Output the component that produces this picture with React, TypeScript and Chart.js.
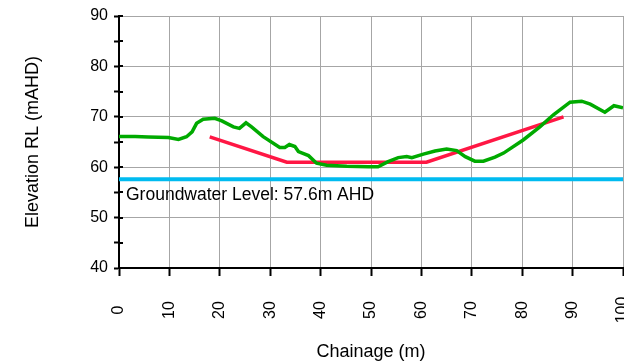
import React, { useEffect, useRef } from 'react';
import { Chart, registerables } from 'chart.js';

Chart.register(...registerables);

// Ground surface profile (green)
const groundChainage = [0, 3.2, 5.8, 9.8, 11.8, 13.4, 14.5, 15.4, 16.7, 19.0, 20.4, 22.7, 23.9, 25.2, 26.3, 28.6, 31.9, 32.9, 33.8, 34.9, 35.6, 37.6, 39.2, 41.2, 45.2, 49.5, 51.4, 53.4, 55.4, 57.1, 58.1, 60.4, 62.7, 65.0, 67.0, 68.7, 70.6, 72.3, 74.6, 76.3, 80.2, 83.5, 86.2, 89.5, 91.8, 93.5, 96.4, 98.2, 100];
const groundElevation = [66.1, 66.1, 66.0, 65.9, 65.5, 66.05, 67.0, 68.7, 69.5, 69.7, 69.2, 68.0, 67.7, 68.8, 68.0, 66.05, 63.9, 63.9, 64.5, 64.1, 63.1, 62.3, 60.8, 60.4, 60.2, 60.1, 60.1, 61.1, 61.9, 62.1, 61.9, 62.6, 63.2, 63.6, 63.3, 62.1, 61.2, 61.2, 62.0, 62.8, 65.4, 68.0, 70.4, 72.9, 73.1, 72.5, 70.9, 72.2, 71.8];

// Design profile (red)
const designChainage = [18, 33.3, 61, 88.2];
const designElevation = [66, 61, 61, 70];

// Groundwater level (cyan)
const groundwaterChainage = [0, 100];
const groundwaterLevel = 57.6;
const groundwaterLabel = 'Groundwater Level: 57.6m AHD';

// Axes
const xTicks = [0, 10, 20, 30, 40, 50, 60, 70, 80, 90, 100];
const yMin = 40;
const yMax = 90;
const xTitle = 'Chainage (m)';
const yTitle = 'Elevation RL (mAHD)';

const FONT = '"Liberation Sans", Arial, sans-serif';
const GRID = '#a6a6a6';

const customPlugin = {
  id: 'customText',
  afterDraw(chart: any) {
    const { ctx, chartArea } = chart;
    const x = chart.scales.x;
    const y = chart.scales.y;
    ctx.save();
    // inner portion of y tick marks
    ctx.strokeStyle = '#000';
    ctx.lineWidth = 2;
    for (let v = yMin; v <= yMax; v += 5) {
      const py = Math.round(y.getPixelForValue(v));
      ctx.beginPath();
      ctx.moveTo(chartArea.left, py);
      ctx.lineTo(chartArea.left + 4, py);
      ctx.stroke();
    }
    // x tick labels, rotated, centred
    ctx.fillStyle = '#000';
    ctx.font = '16px ' + FONT;
    ctx.textAlign = 'center';
    ctx.textBaseline = 'middle';
    xTicks.forEach((v) => {
      const px = x.getPixelForValue(v);
      ctx.save();
      ctx.translate(px, chartArea.bottom + 42);
      ctx.rotate(-Math.PI / 2);
      ctx.fillText(String(v), 0, 0);
      ctx.restore();
    });
    // groundwater annotation
    ctx.font = '17.5px ' + FONT;
    ctx.textAlign = 'left';
    ctx.textBaseline = 'alphabetic';
    ctx.fillText(groundwaterLabel, x.getPixelForValue(0) + 7, y.getPixelForValue(groundwaterLevel) + 21);
    ctx.restore();
  },
};

export default function App() {
  const ref = useRef<HTMLCanvasElement>(null);
  useEffect(() => {
    if (!ref.current) return;
    const chart = new Chart(ref.current, {
      type: 'line',
      data: {
        datasets: [
          {
            label: 'Ground',
            data: groundChainage.map((c, i) => ({ x: c, y: groundElevation[i] })),
            borderColor: '#00aa00',
            borderWidth: 3.5,
            pointRadius: 0,
            tension: 0,
            order: 0,
          },
          {
            label: 'Design',
            data: designChainage.map((c, i) => ({ x: c, y: designElevation[i] })),
            borderColor: '#ff1744',
            borderWidth: 3.5,
            pointRadius: 0,
            tension: 0,
            order: 1,
          },
          {
            label: 'Groundwater',
            data: groundwaterChainage.map((c) => ({ x: c, y: groundwaterLevel })),
            borderColor: '#00bbf0',
            borderWidth: 4,
            pointRadius: 0,
            tension: 0,
            order: 2,
          },
        ],
      },
      options: {
        animation: false,
        responsive: false,
        maintainAspectRatio: false,
        layout: { padding: { top: 16, right: 1, left: 0, bottom: 0 } },
        plugins: { legend: { display: false }, tooltip: { enabled: false } },
        scales: {
          x: {
            type: 'linear',
            min: 0,
            max: 100,
            afterFit: (s: any) => { s.height = 96; },
            ticks: { display: false, stepSize: 10 },
            grid: {
              color: (c: any) => (c.tick && c.tick.value === 0 ? 'rgba(0,0,0,0)' : GRID),
              lineWidth: 1,
              tickColor: '#000',
              tickWidth: 2,
              tickLength: 8,
            },
            border: { display: true, color: '#000', width: 2 },
            title: {
              display: true,
              text: xTitle,
              color: '#000',
              font: { family: FONT, size: 18 },
              padding: { top: 0, bottom: 1.5 },
            },
          },
          y: {
            type: 'linear',
            min: yMin,
            max: yMax,
            afterFit: (s: any) => { s.width = 119; },
            ticks: {
              stepSize: 5,
              color: '#000',
              font: { family: FONT, size: 16 },
              padding: 6,
              callback: (v: any) => (Number(v) % 10 === 0 ? String(v) : ''),
            },
            grid: {
              color: (c: any) => (c.tick && c.tick.value % 10 === 0 && c.tick.value !== yMin ? GRID : 'rgba(0,0,0,0)'),
              lineWidth: 1,
              tickColor: '#000',
              tickWidth: 2,
              tickLength: 5,
            },
            border: { display: true, color: '#000', width: 2 },
            title: {
              display: true,
              text: yTitle,
              color: '#000',
              font: { family: FONT, size: 18 },
              padding: { top: 22, bottom: 0 },
            },
          },
        },
      },
      plugins: [customPlugin],
    });
    return () => chart.destroy();
  }, []);
  return (
    <div style={{ position: 'fixed', left: 0, top: 0, width: 624, height: 364, overflow: 'hidden', background: '#fff' }}>
      <canvas ref={ref} width={624} height={364} style={{ display: 'block', width: 624, height: 364 }} />
    </div>
  );
}
